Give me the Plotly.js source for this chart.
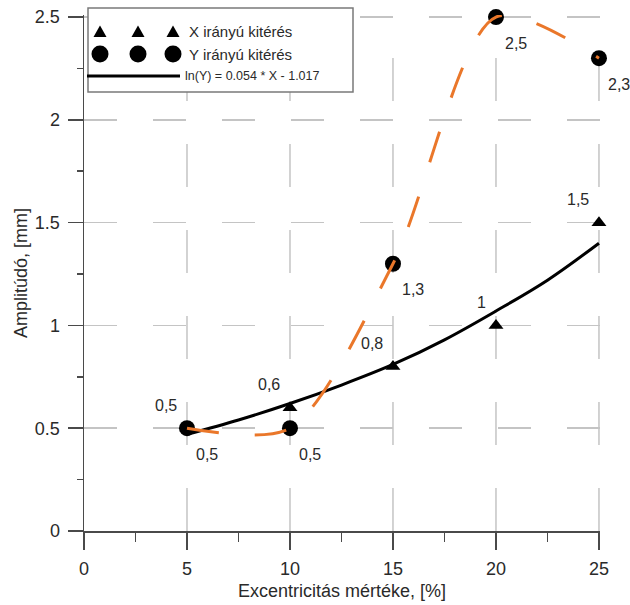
<!DOCTYPE html>
<html><head><meta charset="utf-8">
<script src="https://cdn.plot.ly/plotly-3.0.1.min.js"></script>
<style>html,body{margin:0;padding:0;background:#fff}</style>
</head><body><div id="chart" style="width:630px;height:605px"></div>
<script>
// ---- data ----
const excentricity = [5, 10, 15, 20, 25];
const xDeflection = [0.5, 0.6, 0.8, 1.0, 1.5];
const yDeflection = [0.5, 0.5, 1.3, 2.5, 2.3];
const xValueLabels = ['0,5', '0,6', '0,8', '1', '1,5'];
const yValueLabels = ['0,5', '0,5', '1,3', '2,5', '2,3'];
const fitX = [5, 7.5, 10, 12.5, 15, 17.5, 20, 22.5, 25];
const fitY = [0.47, 0.54, 0.62, 0.71, 0.81, 0.93, 1.07, 1.22, 1.40];
const xTickValues = [0, 5, 10, 15, 20, 25];
const legendNames = ['X irányú kitérés', 'Y irányú kitérés', 'ln(Y) = 0.054 * X - 1.017'];
const xTitle = 'Excentricitás mértéke, [%]';
const yTitle = 'Amplitúdó, [mm]';

// ---- style ----
const FONT = 'Liberation Sans, Arial, sans-serif';
const AXIS = '#4a4a4a';
const GRID = '#c4c4c4';
const ORANGE = '#EA772A';
const TXT = '#2a2a2a';

const traces = [
  { x: excentricity, y: xDeflection, type: 'scatter', mode: 'markers', name: legendNames[0],
    marker: { symbol: 'triangle-up', size: 13, color: '#000' }, showlegend: false, cliponaxis: false },
  { x: excentricity, y: yDeflection, type: 'scatter', mode: 'markers', name: legendNames[1],
    marker: { symbol: 'circle', size: 16, color: '#000' }, showlegend: false, cliponaxis: false },
  { x: fitX, y: fitY, type: 'scatter', mode: 'lines', name: legendNames[2],
    line: { color: '#000', width: 3, shape: 'spline' }, showlegend: false },
  { x: excentricity, y: yDeflection, type: 'scatter', mode: 'lines', name: 'Y spline',
    line: { color: ORANGE, width: 3, shape: 'spline', smoothing: 0.8, dash: '32px,36px' }, showlegend: false, cliponaxis: false }
];

const annotations = [];
excentricity.forEach((xv, i) => {
  annotations.push({ x: xv, y: xDeflection[i], xref: 'x', yref: 'y', text: xValueLabels[i], showarrow: false,
    xanchor: 'right', yanchor: 'middle', xshift: -8, yshift: 23, font: { family: FONT, size: 16, color: TXT } });
  annotations.push({ x: xv, y: yDeflection[i], xref: 'x', yref: 'y', text: yValueLabels[i], showarrow: false,
    xanchor: 'left', yanchor: 'middle', xshift: 7, yshift: -26, font: { family: FONT, size: 16, color: TXT } });
});

// legend (custom, drawn in paper coordinates)
const L = 84, W = 516, B = 531, H = 516;
const px = v => (v - L) / W;
const py = v => (B - v) / H;
annotations.push({ x: px(187), y: py(32), xref: 'paper', yref: 'paper', text: legendNames[0], showarrow: false,
  xanchor: 'left', yanchor: 'middle', font: { family: FONT, size: 15, color: TXT } });
annotations.push({ x: px(187), y: py(54), xref: 'paper', yref: 'paper', text: legendNames[1], showarrow: false,
  xanchor: 'left', yanchor: 'middle', font: { family: FONT, size: 15, color: TXT } });
annotations.push({ x: px(183), y: py(76), xref: 'paper', yref: 'paper', text: legendNames[2], showarrow: false,
  xanchor: 'left', yanchor: 'middle', font: { family: FONT, size: 12.5, color: TXT } });

const shapes = [];
// vertical grid lines, dashed starting from the bottom
xTickValues.slice(1).forEach(xv => {
  shapes.push({ type: 'line', xref: 'x', yref: 'y', x0: xv, x1: xv, y0: 0, y1: 2.51, layer: 'below',
    line: { color: GRID, width: 1.5, dash: '43px,43px' } });
});
// legend box
shapes.push({ type: 'rect', xref: 'paper', yref: 'paper', x0: px(88), x1: px(353), y0: py(92), y1: py(8),
  fillcolor: '#fff', line: { color: '#7a7a7a', width: 1.5 }, layer: 'above' });
[100, 138, 173].forEach(cx => {
  shapes.push({ type: 'path', xref: 'paper', yref: 'paper', xsizemode: 'pixel', ysizemode: 'pixel',
    xanchor: px(cx), yanchor: py(32), path: 'M-6.5,-5 L6.5,-5 L0,6.5 Z', fillcolor: '#000', line: { width: 0 }, layer: 'above' });
  shapes.push({ type: 'circle', xref: 'paper', yref: 'paper', xsizemode: 'pixel', ysizemode: 'pixel',
    xanchor: px(cx), yanchor: py(54), x0: -8.5, x1: 8.5, y0: -8.5, y1: 8.5, fillcolor: '#000', line: { width: 0 }, layer: 'above' });
});
shapes.push({ type: 'line', xref: 'paper', yref: 'paper', x0: px(87), x1: px(180), y0: py(76), y1: py(76),
  line: { color: '#000', width: 3 }, layer: 'above' });

const layout = {
  width: 630, height: 605,
  margin: { l: 84, r: 30, t: 15, b: 74 },
  paper_bgcolor: '#fff', plot_bgcolor: '#fff',
  showlegend: false,
  font: { family: FONT, color: TXT },
  xaxis: {
    range: [0, 25.05], tickmode: 'linear', tick0: 0, dtick: 5,
    showline: true, linecolor: AXIS, linewidth: 1.5, zeroline: false, showgrid: false,
    ticks: 'outside', ticklen: 17, tickwidth: 1.5, tickcolor: AXIS,
    ticklabelstandoff: 4,
    tickfont: { family: FONT, size: 18, color: TXT },
    minor: { tickmode: 'linear', tick0: 0, dtick: 2.5, ticks: 'outside', ticklen: 9, tickwidth: 1.5, tickcolor: AXIS, showgrid: false },
    title: { text: xTitle, font: { family: FONT, size: 18, color: TXT }, standoff: 6 }
  },
  yaxis: {
    range: [0, 2.51], tickmode: 'linear', tick0: 0, dtick: 0.5,
    showline: true, linecolor: AXIS, linewidth: 1.5, zeroline: false,
    showgrid: true, gridcolor: GRID, gridwidth: 1.5, griddash: '33px,36px',
    ticks: 'outside', ticklen: 15, tickwidth: 1.5, tickcolor: AXIS,
    ticklabelstandoff: 4,
    tickfont: { family: FONT, size: 18, color: TXT },
    minor: { tickmode: 'linear', tick0: 0, dtick: 0.25, ticks: 'outside', ticklen: 6, tickwidth: 1.5, tickcolor: AXIS, showgrid: false },
    title: { text: yTitle, font: { family: FONT, size: 18, color: TXT }, standoff: 2 }
  },
  annotations: annotations,
  shapes: shapes
};

Plotly.newPlot('chart', traces, layout, { displayModeBar: false, staticPlot: true });
</script>
</body></html>
